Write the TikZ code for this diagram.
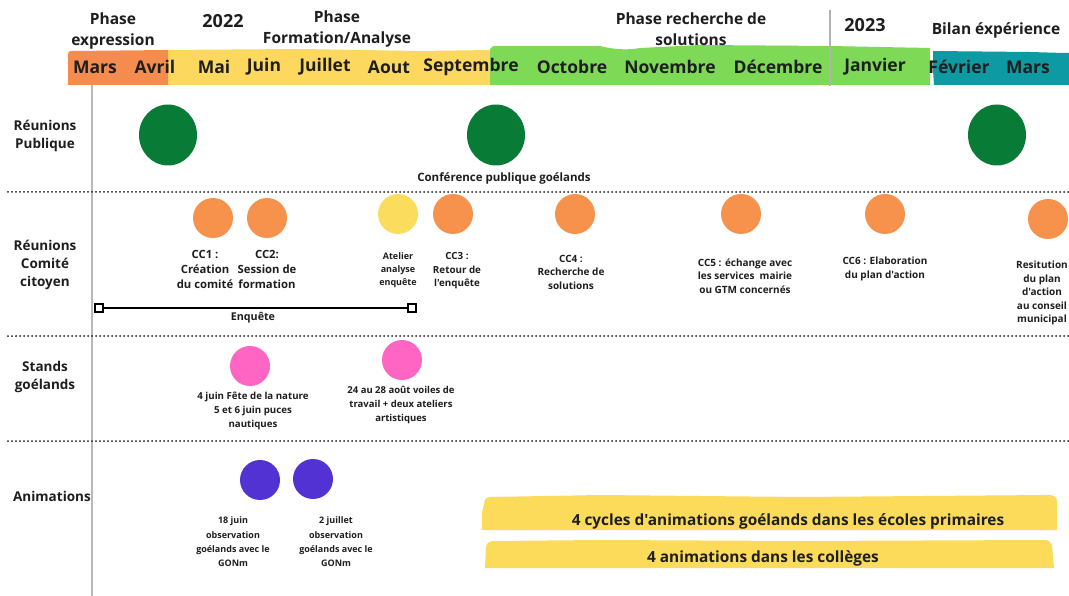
\documentclass[tikz,border=0pt]{standalone}
\usepackage{fontspec}
\setmainfont{Open Sans}[Ligatures=TeXOff]
\usetikzlibrary{shapes.geometric}
\definecolor{ink}{HTML}{1E1E1E}
\definecolor{bandorange}{HTML}{F58C4F}
\definecolor{bandyellow}{HTML}{FDD85E}
\definecolor{bandgreen}{HTML}{7ED957}
\definecolor{bandteal}{HTML}{0E9AA3}
\definecolor{dkgreen}{HTML}{087C37}
\definecolor{orangedot}{HTML}{F7924D}
\definecolor{yellowdot}{HTML}{FCDC5C}
\definecolor{pinkdot}{HTML}{FF66C4}
\definecolor{purpledot}{HTML}{5232D2}
\definecolor{barfill}{HTML}{FCDB5A}
\tikzset{
  month/.style={font=\fontsize{17.5}{20}\selectfont\bfseries, text=ink, inner sep=0pt},
  phase/.style={font=\fontsize{15.5}{21}\selectfont\bfseries, text=ink, align=center, inner sep=0pt},
  yearlab/.style={font=\fontsize{18}{20}\selectfont\bfseries, text=ink, inner sep=0pt},
  rowlab/.style={font=\fontsize{13.5}{18}\selectfont\bfseries, text=ink, align=center, inner sep=0pt},
  small/.style={font=\fontsize{10}{14}\selectfont\bfseries, text=ink, align=center, inner sep=0pt},
  evt/.style={circle, inner sep=0pt, minimum size=#1},
  bigevt/.style={ellipse, inner sep=0pt, minimum width=58pt, minimum height=61pt, fill=dkgreen},
  sepline/.style={line width=2pt, dash pattern=on 0pt off 4pt, line cap=round, draw=ink},
  endsq/.style={rectangle, draw=black, line width=1.6pt, fill=white, minimum size=8pt, inner sep=0pt},
  bartext/.style={font=\fontsize{15.4}{18}\selectfont\bfseries, text=ink, inner sep=0pt}
}
\begin{document}
\begin{tikzpicture}[x=1pt,y=-1pt]
\useasboundingbox[fill=white] (0,0) rectangle (1069,596);
% header band
\fill[bandyellow] (165,50) -- (300,49) -- (420,51) -- (492,50) -- (492,85) -- (165,85) -- cycle;
\fill[bandorange] (72,51) .. controls (68,51) and (68,53) .. (68,56) -- (68,85) -- (168,85) -- (168,50) -- cycle;
\fill[bandgreen] (490,49) .. controls (491,46) and (494,46) .. (497,46) -- (600,46) .. controls (615,50) and (630,50) .. (640,48) -- (700,45) -- (830,46) -- (930,48) -- (930,85) -- (490,85) -- cycle;
\fill[bandteal] (933,51) -- (1030,52) -- (1064,53) -- (1069,53) -- (1069,85) -- (934,85) -- (933,70) -- cycle;
% vertical lines
\draw[gray!55, line width=1.6pt] (92,85) -- (92,596);
\draw[gray!60, line width=1.4pt] (830,10) -- (830,86);
% months
\node[month] (m1) at (95,67) {Mars};
\node[month] (m2) at (155,67) {Avril};
\node[month] (m3) at (214,67) {Mai};
\node[month] (m4) at (264,67) {Juin};
\node[month] (m5) at (325,67) {Juillet};
\node[month] (m6) at (389,67) {Aout};
\node[month] (m7) at (471,67) {Septembre};
\node[month] (m8) at (572,67) {Octobre};
\node[month] (m9) at (670,67) {Novembre};
\node[month] (m10) at (778,67) {Décembre};
\node[month] (m11) at (875,67) {Janvier};
\node[month] (m12) at (959,67) {Février};
\node[month] (m13) at (1028,67) {Mars};
% top labels
\node[phase] (p1) at (113,31) {Phase\\expression};
\node[yearlab] (y22) at (223,21) {2022};
\node[phase] (p2) at (337,29) {Phase\\Formation/Analyse};
\node[phase] (p3) at (691,29) {Phase recherche de\\solutions};
\node[yearlab] (y23) at (865,25) {2023};
\node[phase] (p4) at (996,30) {Bilan éxpérience};
% separators
\draw[sepline] (8,192) -- (1069,192);
\draw[sepline] (8,336) -- (1069,336);
\draw[sepline] (8,441) -- (1069,441);
% row labels
\node[rowlab] (r1) at (45,136) {Réunions\\Publique};
\node[rowlab] (r2) at (45,265) {Réunions\\Comité\\citoyen};
\node[rowlab] (r3) at (45,377) {Stands\\goélands};
\node[rowlab] (r4) at (52,496) {Animations};
% public meetings
\node[bigevt] (g1) at (168,135) {};
\node[bigevt] (g2) at (496,135) {};
\node[bigevt] (g3) at (997,135) {};
\node[small, font=\fontsize{11.5}{14}\selectfont\bfseries] (gl2) at (504,178) {Conférence publique goélands};
% committee
\node[evt=40pt, fill=orangedot] (c1) at (213,218) {};
\node[evt=40pt, fill=orangedot] (c2) at (267,218) {};
\node[evt=40pt, fill=yellowdot] (at) at (398,214) {};
\node[evt=40pt, fill=orangedot] (c3) at (453,214) {};
\node[evt=40pt, fill=orangedot] (c4) at (575,214) {};
\node[evt=40pt, fill=orangedot] (c5) at (741,214) {};
\node[evt=40pt, fill=orangedot] (c6) at (885,214) {};
\node[evt=40pt, fill=orangedot] (c7) at (1048,219) {};
\node[small, font=\fontsize{11.3}{15}\selectfont\bfseries] (lc1) at (205,269) {CC1 :\\Création\\du comité};
\node[small, font=\fontsize{11.3}{15}\selectfont\bfseries] (lc2) at (267,269) {CC2:\\Session de\\formation};
\node[small, font=\fontsize{9}{13}\selectfont\bfseries] (lat) at (398,270) {Atelier\\analyse\\enquête};
\node[small, font=\fontsize{9.8}{13.5}\selectfont\bfseries] (lc3) at (457,271) {CC3 :\\Retour de\\l'enquête};
\node[small, font=\fontsize{10}{13.5}\selectfont\bfseries] (lc4) at (571,272) {CC4 :\\Recherche de\\solutions};
\node[small, font=\fontsize{10}{13.5}\selectfont\bfseries] (lc5) at (745,276) {CC5 : échange avec\\les services~ mairie\\ou GTM concernés};
\node[small, font=\fontsize{10}{13.5}\selectfont\bfseries] (lc6) at (885,269) {CC6 : Elaboration\\du plan d'action};
\node[small, font=\fontsize{10}{13.5}\selectfont\bfseries] (lc7) at (1042,293) {Resitution\\du plan\\d'action\\au conseil\\municipal};
% enquete
\node[endsq] (e1) at (99,308) {};
\node[endsq] (e2) at (412,308) {};
\draw[line width=2pt, black] (e1) -- (e2);
\node[small, font=\fontsize{10.7}{14}\selectfont\bfseries] (el) at (253,318) {Enquête};
% stands
\node[evt=40pt, fill=pinkdot] (s1) at (250,366) {};
\node[evt=40pt, fill=pinkdot] (s2) at (402,360) {};
\node[small, font=\fontsize{9.7}{14}\selectfont\bfseries] (ls1) at (253,411) {4 juin Fête de la nature\\5 et 6 juin puces\\nautiques};
\node[small, font=\fontsize{9.5}{14}\selectfont\bfseries] (ls2) at (401,405) {24 au 28 août voiles de\\travail + deux ateliers\\artistiques};
% animations
\node[evt=40pt, fill=purpledot] (a1) at (260,480) {};
\node[evt=40pt, fill=purpledot] (a2) at (313,479) {};
\node[small, font=\fontsize{9}{14.3}\selectfont\bfseries] (la1) at (233,542) {18 juin\\observation\\goélands avec le\\GONm};
\node[small, font=\fontsize{9}{14.3}\selectfont\bfseries] (la2) at (336,542) {2 juillet\\observation\\goélands avec le\\GONm};
% bars
\fill[barfill] (490,497) .. controls (486,497) and (484,500) .. (484,505) -- (482,512) -- (482,530) -- (1057,530) -- (1057,500) .. controls (1056,496) and (1052,495) .. (1048,495) -- (800,497) -- (600,495) -- cycle;
\fill[barfill] (494,541) .. controls (488,541) and (486,544) .. (486,548) -- (485,568) -- (1054,568) -- (1052,545) .. controls (1051,542) and (1048,540) .. (1044,540) -- (800,541) -- (600,540) -- cycle;
\node[bartext] (b1) at (788,521) {4 cycles d'animations goélands dans les écoles primaires};
\node[bartext] (b2) at (763,558) {4 animations dans les collèges};
\end{tikzpicture}
\end{document}
